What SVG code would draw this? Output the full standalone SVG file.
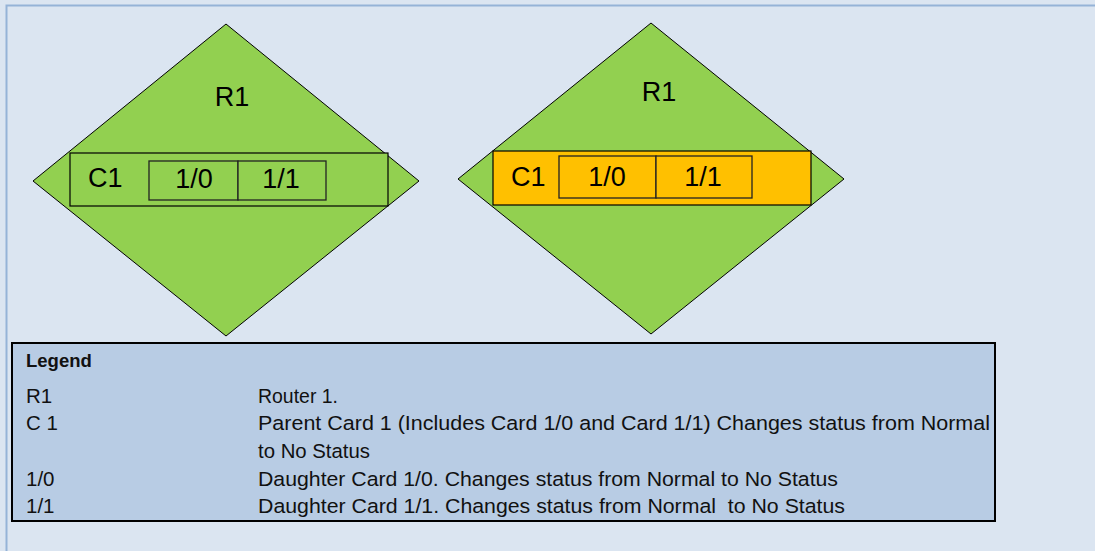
<svg xmlns="http://www.w3.org/2000/svg" width="1095" height="551" viewBox="0 0 1095 551">
<style>
.dia{fill:#92D050;stroke:#000;stroke-width:1}
.card{stroke:#000;stroke-width:1.2}
.sub{stroke:#222;stroke-width:1.3}
.lbl{font-family:"Liberation Sans",Arial,sans-serif;font-size:27px;fill:#000}
.lg{font-family:"Liberation Sans",Arial,sans-serif;font-size:20.5px;fill:#111}
.lgb{font-family:"Liberation Sans",Arial,sans-serif;font-size:18.5px;font-weight:bold;fill:#111}
</style>
<rect x="0" y="0" width="1095" height="551" fill="#DBE5F1"/>
<path d="M6.5 551 V5.5 H1095" fill="none" stroke="#95B3D7" stroke-width="2"/>
<g id="router1-before">
<polygon class="dia" points="226,24 419,181 226,336 33,181"/>
<text class="lbl" x="232" y="106" text-anchor="middle">R1</text>
<g id="card-c1-before">
<rect class="card" x="70" y="153" width="318" height="53" fill="#92D050"/>
<text class="lbl" x="88" y="187">C1</text>
</g>
<g id="card-1-0-before">
<rect class="sub" x="149" y="161" width="89" height="39" fill="#92D050"/>
<text class="lbl" x="194" y="188" text-anchor="middle">1/0</text>
</g>
<g id="card-1-1-before">
<rect class="sub" x="238" y="161" width="88" height="39" fill="#92D050"/>
<text class="lbl" x="281" y="188" text-anchor="middle">1/1</text>
</g>
</g>
<g id="router1-after">
<polygon class="dia" points="651,23 844,179 651,334 458,179"/>
<text class="lbl" x="659" y="101" text-anchor="middle">R1</text>
<g id="card-c1-after">
<rect class="card" x="493" y="151" width="318" height="54" fill="#FFC000"/>
<text class="lbl" x="511" y="186">C1</text>
</g>
<g id="card-1-0-after">
<rect class="sub" x="559" y="156" width="97" height="42" fill="#FFC000"/>
<text class="lbl" x="607" y="186" text-anchor="middle">1/0</text>
</g>
<g id="card-1-1-after">
<rect class="sub" x="656" y="156" width="96" height="42" fill="#FFC000"/>
<text class="lbl" x="703" y="186" text-anchor="middle">1/1</text>
</g>
</g>
<g id="connectors"></g>
<g id="legend">
<rect x="12" y="343" width="983" height="178" fill="#B8CCE4" stroke="#000" stroke-width="2"/>
<text class="lgb" x="26" y="367">Legend</text>
<text class="lg" x="26" y="403">R1</text>
<text class="lg" x="258" y="403" textLength="80" lengthAdjust="spacingAndGlyphs">Router 1.</text>
<text class="lg" x="26" y="430">C 1</text>
<text class="lg" x="258" y="430" textLength="732" lengthAdjust="spacingAndGlyphs">Parent Card 1 (Includes Card 1/0 and Card 1/1) Changes status from Normal</text>
<text class="lg" x="258" y="458" textLength="112" lengthAdjust="spacingAndGlyphs">to No Status</text>
<text class="lg" x="26" y="486">1/0</text>
<text class="lg" x="258" y="486" textLength="580" lengthAdjust="spacingAndGlyphs">Daughter Card 1/0. Changes status from Normal to No Status</text>
<text class="lg" x="26" y="513">1/1</text>
<text class="lg" x="258" y="513" xml:space="preserve" textLength="587" lengthAdjust="spacingAndGlyphs">Daughter Card 1/1. Changes status from Normal  to No Status</text>
</g>
</svg>
